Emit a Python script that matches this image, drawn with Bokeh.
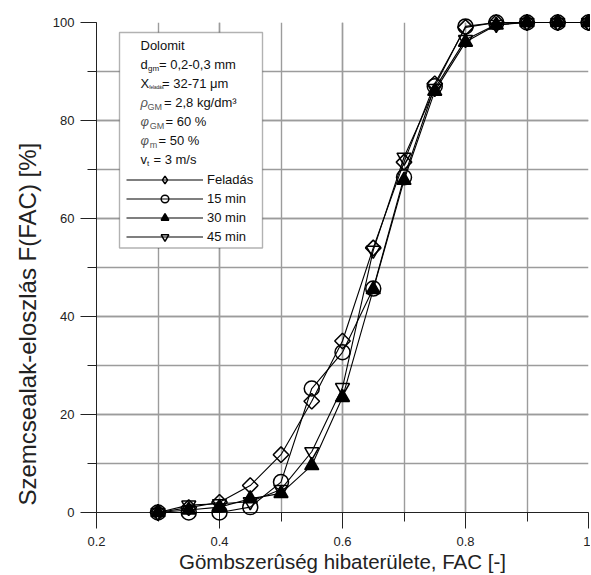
import numpy as np
from bokeh.plotting import figure
from bokeh.models import (Range1d, SingleIntervalTicker, CustomJSTickFormatter, Label, Title,
                          BoxAnnotation, Legend, LegendItem, ColumnDataSource)
from bokeh.embed import file_html
from bokeh.resources import INLINE

# ---- data ----
fac = [0.30, 0.35, 0.40, 0.45, 0.50, 0.55, 0.60, 0.65, 0.70, 0.75, 0.80, 0.85, 0.90, 0.95, 1.00]
feladas = [0.0, 1.0, 2.1, 5.5, 11.8, 22.7, 35.0, 54.0, 71.5, 87.5, 99.0, 100.0, 100.0, 100.0, 100.0]
min15 = [0.0, 0.0, 0.0, 1.1, 6.2, 25.3, 32.7, 45.7, 68.4, 87.0, 99.2, 100.0, 100.0, 100.0, 100.0]
min30 = [0.0, 0.5, 1.1, 2.8, 3.9, 9.6, 23.5, 45.5, 67.8, 86.0, 96.0, 99.5, 100.0, 100.0, 100.0]
min45 = [0.0, 1.5, 1.8, 2.2, 4.7, 12.4, 25.5, 53.5, 72.5, 86.5, 96.5, 99.6, 100.0, 100.0, 100.0]
series_names = ["Feladás", "15 min", "30 min", "45 min"]

info_main = ["Dolomit", "d", "X", "ρ", "φ", "φ", "v"]
info_sub = ["", "gm", "feladás", "GM", "GM", "m", "t"]
info_rest = ["", "= 0,2-0,3 mm", "= 32-71 μm", "= 2,8 kg/dm³", "= 60 %", "= 50 %", "= 3 m/s"]

x_title = "Gömbszerûség hibaterülete, FAC [-]"
y_title = "Szemcsealak-eloszlás F(FAC) [%]"

FONT = "Liberation Sans"
W, H = 590, 575
ML, MT, MR, MB = 96, 22, 2, 63
FW, FH = W - ML - MR, H - MT - MB

# helpers: reference pixel -> data units (for annotation placement)
def rx(px):
    return 0.2 + (px - 96) / 492 * 0.8

def ry(py):
    return (512 - py) / 490 * 100

p = figure(width=W, height=H, min_border_left=ML, min_border_right=MR,
           min_border_top=MT, min_border_bottom=MB,
           x_range=Range1d(0.2, 1.0), y_range=Range1d(0, 100),
           output_backend="svg", toolbar_location=None)
p.outline_line_color = None
p.background_fill_color = "white"
p.border_fill_color = "white"

xt = SingleIntervalTicker(interval=0.2, num_minor_ticks=2)
yt = SingleIntervalTicker(interval=20, num_minor_ticks=2)
p.xaxis.ticker = xt
p.yaxis.ticker = yt
p.xgrid.ticker = xt
p.ygrid.ticker = yt
p.xaxis.formatter = CustomJSTickFormatter(code="return String(Math.round(tick*10)/10);")

for g in (p.xgrid[0], p.ygrid[0]):
    g.grid_line_color = "#9c9c9c"
    g.grid_line_width = 1.4
    g.minor_grid_line_color = "#9c9c9c"
    g.minor_grid_line_width = 1.4

for ax in (p.xaxis[0], p.yaxis[0]):
    ax.major_tick_out = 16
    ax.major_tick_in = 0
    ax.minor_tick_out = 9
    ax.minor_tick_in = 0
    ax.axis_line_color = "#222222"
    ax.major_tick_line_color = "#222222"
    ax.minor_tick_line_color = "#222222"
    ax.major_label_text_font = FONT
    ax.major_label_text_font_size = "13px"
    ax.major_label_text_color = "#222222"
p.xaxis.major_label_standoff = 8
p.yaxis.major_label_standoff = 6

# x title as the axis label
p.xaxis.axis_label = x_title
p.xaxis.axis_label_text_font = FONT
p.xaxis.axis_label_text_font_size = "20.5px"
p.xaxis.axis_label_text_font_style = "normal"
p.xaxis.axis_label_text_color = "#222222"
p.xaxis.axis_label_standoff = 1

# y title as a side title (allows shifting along the axis)
yt_title = Title(text=y_title, align="left", offset=7, standoff=17, text_font=FONT,
                 text_font_size="24px", text_font_style="normal", text_color="#222222")
p.add_layout(yt_title, "left")

src = ColumnDataSource(dict(x=fac, f=feladas, a=min15, b=min30, c=min45))
cols = ["f", "a", "b", "c"]
markers = ["square", "circle", "triangle", "inverted_triangle"]
sizes = [11, 15, 14, 14]
angles = [np.pi / 4, 0, 0, 0]
fills = [None, None, "black", None]

items = []
for name, col, mk, sz, ang, fc in zip(series_names, cols, markers, sizes, angles, fills):
    ln = p.line("x", col, source=src, line_color="black", line_width=1.1, level="overlay")
    sc = p.scatter("x", col, source=src, marker=mk, size=sz, angle=ang,
                   line_color="black", line_width=1.5, fill_color=fc, level="overlay")
    if mk == "square":
        proxy = p.scatter("x", col, source=src, marker="diamond", size=11,
                          line_color="black", line_width=1.5, fill_color=None, visible=False)
        items.append(LegendItem(label=name, renderers=[ln, proxy]))
    else:
        items.append(LegendItem(label=name, renderers=[ln, sc]))

# legend box
box = BoxAnnotation(left=rx(119), right=rx(262), top=ry(32), bottom=ry(247.5),
                    fill_color="white", fill_alpha=1.0, line_color="black", line_width=1.4)
p.add_layout(box)

# info text inside the box
line_y = [45, 64, 83, 102, 121, 140, 159]
sub_off = [0, 7.5, 8.8, 7.0, 9.3, 9.3, 6.5]
rest_off = [0, 18.5, 21.5, 23.5, 25.0, 18.0, 13.0]
sub_size = [8, 8, 4.5, 9, 9, 9, 8]
greek = ["ρ", "φ"]
for m, s, r, yy, so, ro, ss in zip(info_main, info_sub, info_rest, line_y, sub_off, rest_off, sub_size):
    isg = m in greek
    p.add_layout(Label(x=rx(140), y=ry(yy), text=m, text_font=FONT, text_font_size="13px",
                       text_baseline="middle", text_color="#555555" if isg else "#111111",
                       text_font_style="italic" if isg else "normal"))
    if s:
        p.add_layout(Label(x=rx(140), y=ry(yy), x_offset=so, y_offset=-4, text=s, text_font=FONT,
                           text_font_size=f"{ss}px", text_baseline="middle",
                           text_color="#555555" if isg else "#111111"))
    if r:
        p.add_layout(Label(x=rx(140), y=ry(yy), x_offset=ro, text=r, text_font=FONT,
                           text_font_size="13px", text_baseline="middle", text_color="#111111"))

lx = (rx(126) - 0.2) / 0.8 * FW
ly = ry(245.5) / 100 * FH
legend = Legend(items=items, location=(lx, ly), orientation="vertical",
                glyph_width=77, glyph_height=19, label_height=19, spacing=0, padding=0, margin=0,
                label_standoff=4, border_line_color=None, background_fill_alpha=0,
                label_text_font=FONT, label_text_font_size="13px", label_text_color="#111111")
p.add_layout(legend)

open("out.html", "w").write(file_html(p, INLINE))
